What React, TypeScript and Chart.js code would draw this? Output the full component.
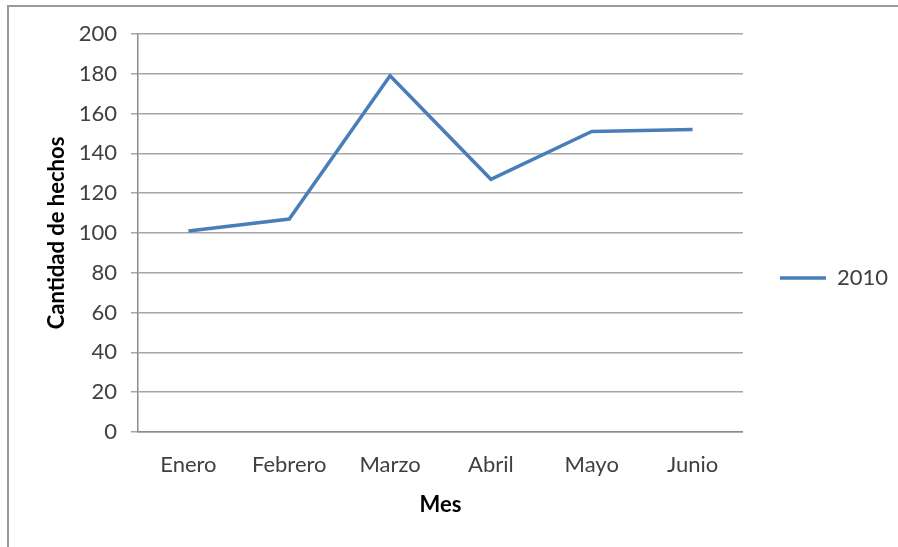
import React, { useEffect, useRef } from "react";
import { Chart, registerables } from "chart.js";

Chart.register(...registerables);

const categories = ["Enero", "Febrero", "Marzo", "Abril", "Mayo", "Junio"];
const series2010 = [101, 107, 179, 127, 151, 152];
const seriesLabel = "2010";
const yTitle = "Cantidad de hechos";
const xTitle = "Mes";

export default function App() {
  const ref = useRef<HTMLCanvasElement | null>(null);
  useEffect(() => {
    if (!ref.current) return;
    const font = "Lato, 'Open Sans', sans-serif";
    const chart = new Chart(ref.current, {
      type: "line",
      data: {
        labels: categories,
        datasets: [
          {
            label: seriesLabel,
            data: series2010,
            borderColor: "#4a7ebb",
            backgroundColor: "#4a7ebb",
            borderWidth: 3.5,
            pointRadius: 0,
            tension: 0,
          },
        ],
      },
      options: {
        animation: false,
        responsive: false,
        layout: { padding: { top: 34, right: 0, bottom: 25, left: 0 } },
        plugins: {
          tooltip: { enabled: false },
          legend: {
            position: "right",
            labels: {
              usePointStyle: true,
              pointStyle: "line",
              pointStyleWidth: 46,
              color: "#404040",
              font: { family: font, size: 22 },
              padding: 37,
            },
          },
        },
        scales: {
          x: {
            offset: true,
            grid: { display: false, drawTicks: false },
            border: { display: true, color: "#8c8c8c", width: 1.5 },
            ticks: { color: "#404040", font: { family: font, size: 22 }, padding: 20 },
            title: {
              display: true,
              text: xTitle,
              color: "#000",
              font: { family: font, size: 22, weight: "bold" },
              padding: { top: 0, bottom: 4 },
            },
            afterFit: (s: any) => {
              s.height = 90;
            },
          },
          y: {
            min: 0,
            max: 200,
            ticks: { stepSize: 20, color: "#404040", font: { family: font, size: 22 }, padding: 14 },
            grid: { color: "#a6a6a6", lineWidth: 1.5, tickLength: 7 },
            border: { display: true, color: "#8c8c8c", width: 1.5 },
            title: {
              display: true,
              text: yTitle,
              color: "#000",
              font: { family: font, size: 22, weight: "bold" },
              padding: { top: 44, bottom: 0 },
            },
            afterFit: (s: any) => {
              s.width = 138;
            },
          },
        },
      },
    });
    return () => chart.destroy();
  }, []);
  return (
    <div style={{ position: "absolute", left: 0, top: 0, width: 898, height: 547, background: "#fff" }}>
      <div
        style={{
          position: "absolute",
          left: 7,
          top: 5,
          right: 0,
          bottom: 0,
          borderTop: "2px solid #9a9a9a",
          borderLeft: "2px solid #9a9a9a",
        }}
      />
      <canvas ref={ref} width={898} height={547} style={{ position: "absolute", left: 0, top: 0 }} />
    </div>
  );
}
